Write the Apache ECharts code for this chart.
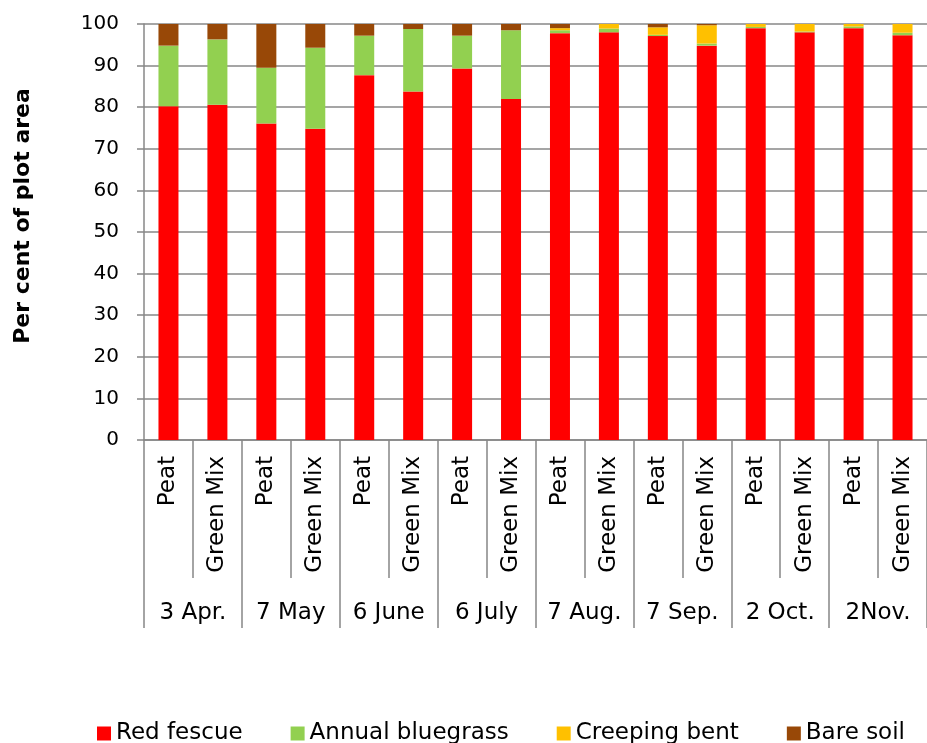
<!DOCTYPE html>
<html>
<head>
<meta charset="utf-8">
<title>Plot cover</title>
<script src="https://cdn.jsdelivr.net/npm/echarts@6/dist/echarts.min.js"></script>
<style>
  html, body { margin: 0; padding: 0; background: #fff; }
  #chart { width: 927px; height: 743px; }
</style>
</head>
<body>
<div id="chart"></div>
<script>
// sampling dates and the two rootzone treatments at each date
const dates = ["3 Apr.", "7 May", "6 June", "6 July", "7 Aug.", "7 Sep.", "2 Oct.", "2Nov."];
const treatments = ["Peat", "Green Mix"];

// per cent of plot area, one value per bar (Peat, Green Mix for each date)
const redFescue = [80.2, 80.6, 76.1, 74.8, 87.7, 83.8, 89.3, 82.0, 97.8, 98.0, 97.1, 94.8, 99.0, 98.0, 99.0, 97.3];
const annualBluegrass = [14.6, 15.7, 13.4, 19.5, 9.5, 15.0, 7.9, 16.5, 0.7, 0.9, 0.3, 0.5, 0.3, 0.2, 0.4, 0.6];
const creepingBent = [0, 0, 0, 0, 0, 0, 0, 0, 0.5, 1.1, 1.8, 4.4, 0.7, 1.8, 0.6, 2.1];
const bareSoil = [5.2, 3.7, 10.5, 5.7, 2.8, 1.2, 2.8, 1.5, 1.0, 0, 0.8, 0.3, 0, 0, 0, 0];

const yTicks = [0, 10, 20, 30, 40, 50, 60, 70, 80, 90, 100];

// one category per bar
const bars = [];
dates.forEach(function () {
  treatments.forEach(function (t) { bars.push(t); });
});

const grey = "#878787";
const font = "DejaVu Sans";

function stackBar(name, data, color) {
  return {
    name: name,
    type: "bar",
    stack: "cover",
    barWidth: 20,
    data: data,
    itemStyle: { color: color }
  };
}

const chart = echarts.init(document.getElementById("chart"));
chart.setOption({
  animation: false,
  textStyle: { fontFamily: font, color: "#000" },
  grid: { left: 144, right: -12, top: 24, bottom: 303 },
  legend: {
    left: 92,
    top: 717,
    itemWidth: 14,
    itemHeight: 14,
    itemGap: 48,
    icon: "rect",
    selectedMode: false,
    textStyle: { fontFamily: font, fontSize: 23, color: "#000" },
    data: ["Red fescue", "Annual bluegrass", "Creeping bent", "Bare soil"]
  },
  xAxis: [
    {
      type: "category",
      position: "bottom",
      data: bars,
      axisLine: { show: true, lineStyle: { color: grey, width: 1.5 } },
      axisTick: { show: true, interval: 0, length: 138, lineStyle: { color: grey, width: 1.5 } },
      axisLabel: {
        interval: 0,
        rotate: 90,
        margin: 16,
        fontSize: 23,
        color: "#000",
        fontFamily: font
      }
    },
    {
      type: "category",
      position: "bottom",
      data: dates,
      axisLine: { show: false },
      axisTick: { show: true, interval: 0, length: 188, lineStyle: { color: grey, width: 1.5 } },
      axisLabel: {
        interval: 0,
        margin: 162,
        fontSize: 23,
        color: "#000",
        fontFamily: font
      }
    }
  ],
  yAxis: {
    type: "value",
    min: yTicks[0],
    max: yTicks[yTicks.length - 1],
    interval: 10,
    name: "Per cent of plot area",
    nameLocation: "middle",
    nameGap: 110,
    nameTextStyle: {
      fontFamily: font,
      fontSize: 22,
      fontWeight: "bold",
      color: "#000",
      padding: [0, 0, 0, 32]
    },
    axisLine: { show: true, lineStyle: { color: grey, width: 1.5 } },
    axisTick: { show: true, length: 7, lineStyle: { color: grey, width: 1.5 } },
    splitLine: { show: true, lineStyle: { color: grey, width: 1.5 } },
    axisLabel: { margin: 25, fontSize: 20, color: "#000", fontFamily: font }
  },
  series: [
    stackBar("Red fescue", redFescue, "#ff0000"),
    stackBar("Annual bluegrass", annualBluegrass, "#92d050"),
    stackBar("Creeping bent", creepingBent, "#ffc000"),
    stackBar("Bare soil", bareSoil, "#984807")
  ]
});
</script>
</body>
</html>
